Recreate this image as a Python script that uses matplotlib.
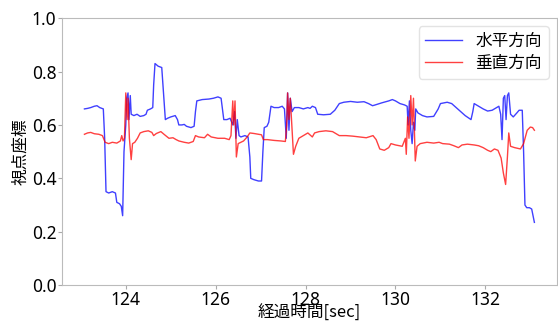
import matplotlib
matplotlib.use('Agg')
import matplotlib.pyplot as plt

plt.rcParams['font.family'] = ['Noto Sans CJK JP', 'DejaVu Sans']

# horizontal gaze coordinate (time [sec], value)
t_h = [123.08, 123.15, 123.22, 123.30, 123.36, 123.42, 123.50, 123.53, 123.56, 123.62,
       123.70, 123.77, 123.80, 123.86, 123.90, 123.93, 123.96, 123.98, 124.00, 124.02,
       124.05, 124.07, 124.10, 124.12, 124.18, 124.25, 124.32, 124.40, 124.45, 124.48,
       124.55, 124.60, 124.62, 124.65, 124.72, 124.80, 124.84, 124.88, 124.93, 125.00,
       125.10, 125.15, 125.18, 125.25, 125.30, 125.35, 125.45, 125.52, 125.55, 125.58,
       125.70, 125.85, 125.95, 126.05, 126.12, 126.15, 126.18, 126.25, 126.32, 126.38,
       126.42, 126.45, 126.48, 126.52, 126.56, 126.65, 126.72, 126.76, 126.78, 126.85,
       126.95, 127.02, 127.05, 127.08, 127.14, 127.18, 127.20, 127.23, 127.30, 127.40,
       127.48, 127.53, 127.57, 127.60, 127.63, 127.66, 127.70, 127.75, 127.85, 127.95,
       128.05, 128.10, 128.15, 128.22, 128.27, 128.40, 128.55, 128.65, 128.75, 128.85,
       129.00, 129.15, 129.30, 129.40, 129.49, 129.55, 129.70, 129.85, 129.93, 130.00,
       130.10, 130.20, 130.26, 130.28, 130.31, 130.34, 130.37, 130.40, 130.43, 130.45,
       130.50, 130.60, 130.70, 130.85, 130.95, 131.00, 131.15, 131.25, 131.35, 131.45,
       131.55, 131.68, 131.72, 131.75, 131.85, 131.95, 132.05, 132.15, 132.25, 132.30,
       132.34, 132.37, 132.40, 132.43, 132.46, 132.49, 132.52, 132.56, 132.62, 132.70,
       132.75, 132.82, 132.85, 132.88, 132.92, 132.98, 133.03, 133.06, 133.09]
v_h = [0.66, 0.662, 0.665, 0.67, 0.672, 0.665, 0.66, 0.55, 0.35, 0.345,
       0.35, 0.345, 0.31, 0.305, 0.295, 0.26, 0.50, 0.55, 0.60, 0.70,
       0.72, 0.62, 0.71, 0.64, 0.635, 0.64, 0.632, 0.635, 0.64, 0.655,
       0.66, 0.665, 0.75, 0.83, 0.82, 0.815, 0.72, 0.62, 0.625, 0.63,
       0.635, 0.62, 0.60, 0.60, 0.602, 0.595, 0.59, 0.595, 0.65, 0.69,
       0.695, 0.697, 0.70, 0.705, 0.70, 0.66, 0.62, 0.62, 0.625, 0.60,
       0.65, 0.55, 0.62, 0.56, 0.555, 0.56, 0.555, 0.48, 0.40, 0.395,
       0.39, 0.39, 0.50, 0.59, 0.595, 0.61, 0.635, 0.67, 0.665, 0.665,
       0.67, 0.66, 0.55, 0.72, 0.58, 0.70, 0.65, 0.665, 0.665, 0.66,
       0.665, 0.662, 0.67, 0.665, 0.64, 0.638, 0.64, 0.655, 0.68, 0.685,
       0.688, 0.685, 0.687, 0.68, 0.672, 0.675, 0.683, 0.69, 0.695, 0.69,
       0.68, 0.675, 0.67, 0.60, 0.69, 0.58, 0.53, 0.61, 0.58, 0.66,
       0.645, 0.635, 0.63, 0.632, 0.66, 0.68, 0.685, 0.68, 0.665, 0.65,
       0.635, 0.62, 0.65, 0.68, 0.67, 0.66, 0.652, 0.655, 0.665, 0.67,
       0.64, 0.545, 0.70, 0.71, 0.62, 0.71, 0.72, 0.64, 0.63, 0.645,
       0.655, 0.655, 0.50, 0.30, 0.29, 0.29, 0.285, 0.26, 0.235]

# vertical gaze coordinate (time [sec], value)
t_v = [123.08, 123.15, 123.22, 123.30, 123.40, 123.48, 123.54, 123.62, 123.70, 123.80,
       123.88, 123.91, 123.94, 123.97, 124.00, 124.03, 124.05, 124.08, 124.12, 124.15,
       124.20, 124.26, 124.32, 124.40, 124.50, 124.58, 124.62, 124.68, 124.78, 124.85,
       124.96, 125.05, 125.12, 125.18, 125.30, 125.40, 125.50, 125.55, 125.62, 125.75,
       125.82, 125.90, 126.05, 126.20, 126.30, 126.34, 126.38, 126.40, 126.43, 126.46,
       126.50, 126.56, 126.62, 126.70, 126.76, 126.85, 126.95, 127.02, 127.06, 127.15,
       127.30, 127.45, 127.55, 127.58, 127.60, 127.63, 127.66, 127.73, 127.78, 127.85,
       127.95, 128.05, 128.15, 128.20, 128.30, 128.45, 128.60, 128.65, 128.75, 128.90,
       129.05, 129.20, 129.35, 129.50, 129.57, 129.65, 129.75, 129.85, 129.90, 130.00,
       130.15, 130.22, 130.24, 130.27, 130.30, 130.34, 130.37, 130.40, 130.44, 130.48,
       130.55, 130.70, 130.85, 130.97, 131.05, 131.20, 131.30, 131.40, 131.48, 131.60,
       131.75, 131.85, 131.95, 132.05, 132.12, 132.20, 132.28, 132.35, 132.40, 132.45,
       132.49, 132.52, 132.56, 132.65, 132.78, 132.85, 132.93, 133.00, 133.05, 133.09]
v_v = [0.565, 0.57, 0.572, 0.567, 0.565, 0.56, 0.535, 0.53, 0.535, 0.532,
       0.54, 0.56, 0.54, 0.55, 0.72, 0.62, 0.70, 0.55, 0.47, 0.53,
       0.535, 0.55, 0.57, 0.575, 0.578, 0.572, 0.56, 0.568, 0.575, 0.565,
       0.55, 0.552, 0.545, 0.54, 0.535, 0.532, 0.538, 0.56, 0.555, 0.552,
       0.565, 0.555, 0.55, 0.55, 0.545, 0.56, 0.69, 0.60, 0.69, 0.48,
       0.53, 0.535, 0.54, 0.555, 0.57, 0.568, 0.565, 0.563, 0.545, 0.545,
       0.542, 0.54, 0.538, 0.60, 0.72, 0.62, 0.70, 0.49, 0.52, 0.55,
       0.56, 0.57, 0.555, 0.57, 0.575, 0.578, 0.575, 0.57, 0.56, 0.56,
       0.558, 0.555, 0.552, 0.56, 0.545, 0.51, 0.505, 0.515, 0.53, 0.525,
       0.52, 0.55, 0.49, 0.63, 0.55, 0.71, 0.60, 0.70, 0.465, 0.52,
       0.53, 0.535, 0.532, 0.535, 0.53, 0.528, 0.522, 0.515, 0.525, 0.528,
       0.525, 0.522, 0.515, 0.505, 0.50, 0.51, 0.505, 0.476, 0.42, 0.377,
       0.48, 0.57, 0.52, 0.515, 0.51, 0.53, 0.58, 0.592, 0.59, 0.58]

fig = plt.figure(figsize=(5.58, 3.24), dpi=100)
ax = fig.add_axes([0.111, 0.12, 0.887, 0.824])

ax.plot(t_h, v_h, color='blue', lw=1.0, alpha=0.75, label='水平方向')
ax.plot(t_v, v_v, color='red', lw=1.0, alpha=0.75, label='垂直方向')

ax.set_ylim(0, 1.0)
ax.set_yticks([0.0, 0.2, 0.4, 0.6, 0.8, 1.0])
ax.set_xticks([124, 126, 128, 130, 132])

ax.set_xlabel('経過時間[sec]', fontsize=12)
ax.xaxis.set_label_coords(0.5, -0.07)
ax.set_ylabel('視点座標', fontsize=12, labelpad=2)
ax.tick_params(labelsize=12.5, length=3, color='#aaaaaa', pad=1)
for lab in ax.get_xticklabels() + ax.get_yticklabels():
    lab.set_family('Noto Sans')
for s in ax.spines.values():
    s.set_color('#bbbbbb')

ax.legend(loc='upper right', fontsize=12, frameon=True, edgecolor='#dddddd',
          handlelength=2.2, borderpad=0.4, labelspacing=0.3)

plt.savefig('out.png', dpi=100)
